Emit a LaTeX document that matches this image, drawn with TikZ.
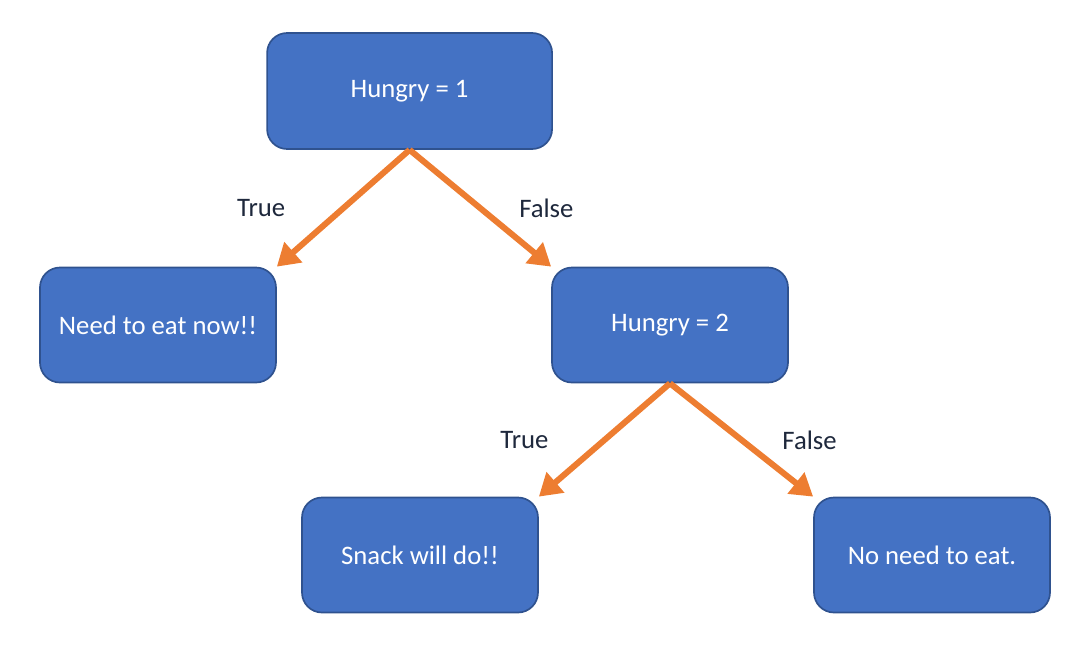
\documentclass[tikz,border=0pt]{standalone}
\usepackage{fontspec}
\setmainfont{Carlito}
\usetikzlibrary{shapes.geometric, arrows, arrows.meta, positioning, math, calc}
\definecolor{boxFill}{HTML}{4472C4}
\definecolor{boxLine}{HTML}{2F528F}
\definecolor{arrowCol}{HTML}{ED7D31}
\definecolor{labelCol}{RGB}{30,40,60}
\begin{document}
\begin{tikzpicture}[
				level 1/.style={
					level distance=5.85cm,
					sibling distance=12.8cm
				},
				level 2/.style={
					level distance=5.75cm,
					sibling distance=12.8cm
				},
				edge from parent/.style={draw=none}
			]
			\tikzmath{
				\nodeW       		 = 5.9;   %node width
				\nodeH       		 = 2.875;   %node height
				\rootW       		 = 7.125;   %root width
			}
			\tikzstyle{Node} = [
				minimum width=\nodeW cm, 
				minimum height=\nodeH cm, 
				text centered, 
				draw=boxLine,
				line width=1.2pt,
				fill=boxFill,
				text=white,
				font=\fontsize{19}{23}\selectfont,
				rounded corners=0.5cm
			]
			\tikzstyle{Arrow} = [
				draw=arrowCol,
				line width=4.3pt,
				-{Triangle[length=0.55cm, width=0.65cm]}
			]
			\tikzstyle{Label} = [
				text=labelCol,
				font=\fontsize{19}{23}\selectfont
			]
			\useasboundingbox (-10.35,2.275) rectangle (16.575,-13.85);
			
			\node (hungryOne) [Node, minimum width=\rootW cm, minimum height=2.9cm, xshift=-0.11cm] {Hungry = 1}
			child {
				node (eatNow) [Node, xshift=0.11cm] {Need to eat now!!}
			}
			child {
				node (hungryTwo) [Node, xshift=0.11cm] {Hungry = 2}
				child {
					node (snack) [Node, xshift=0.15cm] {Snack will do!!}
				}
				child {
					node (noNeed) [Node, xshift=0.15cm] {No need to eat.}
				}
			};
			\draw [Arrow] (hungryOne.south) -- (eatNow.north east)
				node [Label, midway, xshift=-2.05cm] {True};
			\draw [Arrow] (hungryOne.south) -- (hungryTwo.north west)
				node [Label, midway, xshift=1.65cm] {False};
			\draw [Arrow] (hungryTwo.south) -- (snack.north east)
				node [Label, midway, xshift=-2cm] {True};
			\draw [Arrow] (hungryTwo.south) -- (noNeed.north west)
				node [Label, midway, xshift=1.7cm] {False};
		\end{tikzpicture}
\end{document}
